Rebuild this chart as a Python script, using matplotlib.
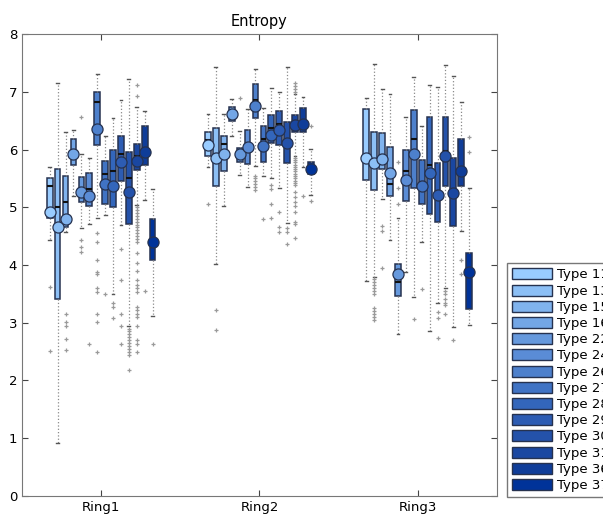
import matplotlib
matplotlib.use("Agg")
import matplotlib.pyplot as plt
from matplotlib.patches import Patch

rings = ["Ring1", "Ring2", "Ring3"]
types = ["Type 11", "Type 13", "Type 15", "Type 16", "Type 22", "Type 24", "Type 26",
         "Type 27", "Type 28", "Type 29", "Type 30", "Type 31", "Type 36", "Type 37"]

# Ring1
r1_q1 = [4.81, 3.42, 4.66, 5.74, 5.10, 5.02, 6.08, 5.05, 5.00, 5.46, 4.71, 5.64, 5.73, 4.09]
r1_med = [5.37, 5.01, 5.10, 5.86, 5.30, 5.31, 6.82, 5.57, 5.62, 5.92, 5.50, 5.89, 6.02, 4.39]
r1_q3 = [5.50, 5.66, 5.54, 6.18, 5.52, 5.59, 7.00, 5.80, 6.00, 6.23, 5.95, 6.09, 6.41, 4.79]
r1_lo = [4.43, 0.91, 4.57, 5.20, 4.64, 4.71, 4.81, 4.86, 3.49, 4.69, 2.95, 5.04, 5.13, 3.12]
r1_hi = [5.69, 7.16, 6.30, 6.33, 5.93, 5.86, 7.30, 6.24, 6.55, 6.86, 7.23, 6.74, 6.67, 5.31]
r1_mean = [4.91, 4.65, 4.80, 5.92, 5.26, 5.20, 6.36, 5.40, 5.37, 5.78, 5.26, 5.81, 5.96, 4.39]
r1_out = [
    [3.62, 2.51],
    [],
    [3.16, 3.02, 2.95, 2.72, 2.53],
    [],
    [6.57, 4.43, 4.31, 4.23],
    [2.64],
    [4.55, 4.40, 4.09, 3.88, 3.84, 3.61, 3.54, 3.16, 3.02, 2.50],
    [3.49],
    [3.34, 3.28, 3.09],
    [4.28, 3.74, 3.16, 2.95, 2.64],
    [2.90, 2.85, 2.80, 2.75, 2.70, 2.65, 2.60, 2.55, 2.50, 2.45, 2.19],
    [7.12, 6.93, 5.00, 4.95, 4.90, 4.85, 4.80, 4.75, 4.70, 4.65, 4.60, 4.55, 4.50, 4.45,
     4.40, 4.20, 4.03, 3.90, 3.74, 3.65, 3.60, 3.54, 3.28, 3.22, 3.16, 3.10, 2.95, 2.71,
     2.64, 2.50],
    [3.55],
    [2.64],
]

# Ring2
r2_q1 = [5.88, 5.36, 5.62, 6.49, 5.78, 5.75, 6.54, 5.79, 6.12, 6.07, 5.77, 6.31, 6.31, 5.57]
r2_med = [6.16, 5.92, 6.09, 6.64, 5.95, 6.11, 6.86, 6.18, 6.37, 6.45, 6.16, 6.48, 6.50, 5.67]
r2_q3 = [6.31, 6.37, 6.24, 6.74, 6.03, 6.33, 7.13, 6.40, 6.59, 6.67, 6.48, 6.59, 6.72, 5.79]
r2_lo = [5.69, 4.02, 5.03, 6.23, 5.56, 5.35, 5.71, 5.54, 5.50, 5.33, 4.72, 5.89, 5.69, 5.21]
r2_hi = [6.61, 7.43, 6.61, 6.87, 6.32, 6.70, 7.39, 6.72, 7.07, 6.99, 7.43, 6.96, 6.91, 6.01]
r2_mean = [6.08, 5.85, 5.92, 6.61, 5.92, 6.04, 6.76, 6.06, 6.25, 6.33, 6.11, 6.42, 6.44, 5.67]
r2_out = [
    [5.05],
    [3.22, 2.87],
    [],
    [],
    [6.90],
    [],
    [5.55, 5.50, 5.45, 5.40, 5.35, 5.30],
    [4.79],
    [5.39, 5.31, 5.06, 4.82],
    [4.91, 4.65, 4.57],
    [4.64, 4.58, 4.36],
    [7.15, 7.10, 7.05, 7.00, 5.86, 5.82, 5.78, 5.74, 5.70, 5.66, 5.62, 5.58, 5.54, 5.50,
     5.46, 5.42, 5.38, 5.27, 5.18, 5.10, 5.03, 4.91, 4.74, 4.71, 4.46],
    [5.19],
    [6.41, 5.11],
]

# Ring3
r3_q1 = [5.47, 5.30, 5.67, 5.19, 3.46, 5.11, 5.33, 5.05, 4.88, 4.75, 5.36, 4.68, 5.37, 3.23]
r3_med = [5.88, 5.78, 5.90, 5.41, 3.71, 5.62, 6.19, 5.44, 5.73, 5.28, 5.98, 5.25, 5.63, 3.79]
r3_q3 = [6.71, 6.31, 6.29, 6.05, 4.02, 6.00, 6.68, 5.82, 6.56, 5.76, 6.57, 5.86, 6.19, 4.21]
r3_lo = [3.73, 3.79, 5.14, 4.43, 2.80, 3.88, 3.44, 4.39, 2.85, 3.35, 3.60, 2.92, 4.59, 2.96]
r3_hi = [6.89, 7.49, 7.04, 6.96, 4.82, 6.56, 7.26, 6.41, 7.12, 7.08, 7.46, 7.27, 6.82, 5.33]
r3_mean = [5.86, 5.76, 5.83, 5.59, 3.84, 5.47, 5.92, 5.36, 5.60, 5.21, 5.89, 5.25, 5.63, 3.88]
r3_out = [
    [],
    [3.75, 3.70, 3.65, 3.60, 3.55, 3.50, 3.25, 3.20, 3.15, 3.10, 3.05],
    [4.68, 4.59, 3.94],
    [],
    [5.78, 5.34, 5.06],
    [],
    [3.06],
    [3.58],
    [],
    [3.19, 3.09, 2.74],
    [3.55, 3.50, 3.42, 3.35, 3.30, 3.16],
    [2.71],
    [4.09, 3.84],
    [6.22, 5.96],
]

colors = ["#99ccff", "#8cbff5", "#80b3ee", "#73a6e6", "#6699dd", "#5a8cd6", "#4d80cc",
          "#4073c4", "#3366bb", "#2d5cb3", "#2452aa", "#1a47a1", "#0f3d99", "#003399"]

ring_data = [
    (r1_q1, r1_med, r1_q3, r1_lo, r1_hi, r1_mean, r1_out),
    (r2_q1, r2_med, r2_q3, r2_lo, r2_hi, r2_mean, r2_out),
    (r3_q1, r3_med, r3_q3, r3_lo, r3_hi, r3_mean, r3_out),
]

fig = plt.figure(figsize=(6.03, 5.16), dpi=100)
ax = fig.add_axes([0.0365, 0.0388, 0.7875, 0.8952])

n = len(types)
step = 0.05
edge = "#26324f"
for ri, (q1, med, q3, lo, hi, mn, out) in enumerate(ring_data):
    for j in range(n):
        st = [dict(q1=q1[j], med=med[j], q3=q3[j], whislo=lo[j], whishi=hi[j],
                   mean=mn[j], fliers=out[j])]
        pos = ri + 1 + (j - (n - 1) / 2) * step
        ax.bxp(st, positions=[pos], widths=0.036, patch_artist=True,
               showmeans=True, manage_ticks=False,
               boxprops=dict(facecolor=colors[j], edgecolor=edge, linewidth=1.1),
               medianprops=dict(color="#111111", linewidth=1.5),
               whiskerprops=dict(color="#8a8a8a", linestyle=":", linewidth=0.9),
               capprops=dict(color="#555555", linewidth=1.0),
               flierprops=dict(marker="+", markersize=3.5, markeredgecolor="#9a9a9a",
                               markeredgewidth=0.9, linestyle="none"),
               meanprops=dict(marker="o", markersize=8, markerfacecolor=colors[j],
                              markeredgecolor=edge, markeredgewidth=0.9))

ax.set_xlim(0.5, 3.5)
ax.set_ylim(0, 8)
ax.set_xticks([1, 2, 3])
ax.set_xticklabels(rings)
ax.set_yticks(range(0, 9))
ax.tick_params(direction="in", top=True, right=True, length=4, labelsize=9.5,
               color="#444444")
for s in ax.spines.values():
    s.set_color("#777777")
ax.set_title("Entropy", fontsize=10.5, pad=6)

handles = [Patch(facecolor=c, edgecolor=edge, linewidth=1.0) for c in colors]
fig.legend(handles, types, loc="upper left", bbox_to_anchor=(0.8408, 0.49),
           fontsize=9.5, handlelength=3.0, handleheight=0.9, labelspacing=0.24,
           fancybox=False, edgecolor="#777777", framealpha=1, borderpad=0.4,
           handletextpad=0.4, borderaxespad=0)

fig.savefig("out.png", dpi=100)
